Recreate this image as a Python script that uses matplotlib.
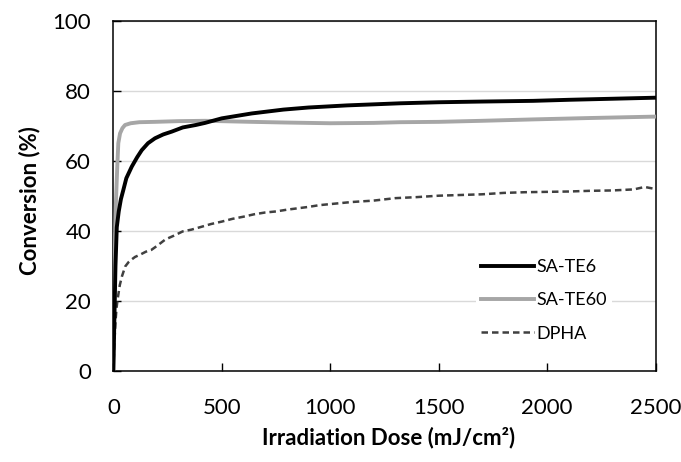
# Photo-curing conversion vs irradiation dose
import matplotlib.pyplot as plt

plt.rcParams['font.family'] = ['Lato', 'DejaVu Sans']

# SA-TE6 (black solid)
te6_dose = [0, 5, 10, 16, 25, 35, 46, 60, 85, 110, 131, 160, 192, 230, 269, 320,
            380, 423, 500, 638, 784, 900, 1077, 1200, 1322, 1500, 1700, 1936, 2100,
            2300, 2500]
te6_conv = [0, 15, 30, 41, 45.5, 49, 51.6, 55, 58.3, 61, 63, 65, 66.4, 67.5, 68.3,
            69.5, 70.2, 70.8, 72.1, 73.5, 74.6, 75.2, 75.8, 76.1, 76.4, 76.7, 76.9,
            77.1, 77.4, 77.7, 78]

# SA-TE60 (grey solid)
te60_dose = [0, 4, 8, 12.5, 18, 23, 31, 42, 54, 80, 120, 192, 300, 423, 638, 800,
             1000, 1200, 1322, 1500, 1700, 1936, 2200, 2500]
te60_conv = [0, 20, 38, 49, 58, 65, 67.8, 69.3, 70.2, 70.7, 71, 71.1, 71.3, 71.4,
             71.1, 70.9, 70.7, 70.8, 71, 71.1, 71.4, 71.8, 72.2, 72.6]

# DPHA (dark dashed)
dpha_dose = [0, 5, 10, 15, 20, 30, 40, 55, 70, 85, 100, 125, 150, 175, 200, 240,
             280, 320, 360, 400, 450, 500, 550, 600, 650, 700, 750, 800, 850, 900,
             950, 1000, 1100, 1200, 1300, 1400, 1500, 1600, 1700, 1800, 1900, 2000,
             2100, 2200, 2300, 2400, 2450, 2500]
dpha_conv = [0, 8, 14, 18, 20.5, 24.5, 27, 29.8, 31, 31.8, 32.5, 33.2, 34, 34.5,
             35.6, 37.5, 38.6, 39.8, 40.3, 41, 41.9, 42.6, 43.4, 44, 44.7, 45.2, 45.5,
             46, 46.4, 46.8, 47.3, 47.6, 48.2, 48.6, 49.3, 49.6, 50, 50.2, 50.4, 50.8,
             51, 51.1, 51.2, 51.4, 51.5, 51.8, 52.5, 51.9]

x_ticks = [0, 500, 1000, 1500, 2000, 2500]
y_ticks = [0, 20, 40, 60, 80, 100]

fig = plt.figure(figsize=(6.81, 4.62), dpi=100)
ax = fig.add_axes([0.1664, 0.1976, 0.7962, 0.7576])

ax.plot(te6_dose, te6_conv, color='black', lw=2.8, label='SA-TE6', zorder=4)
ax.plot(te60_dose, te60_conv, color='#a6a6a6', lw=2.8, label='SA-TE60', zorder=3)
ax.plot(dpha_dose, dpha_conv, color='#404040', lw=1.8, ls=(0, (2.6, 1.6)),
        label='DPHA', zorder=3)

ax.set_xlim(0, 2500)
ax.set_ylim(0, 100)
ax.set_xticks(x_ticks)
ax.set_yticks(y_ticks)
ax.grid(axis='y', color='#d9d9d9', lw=1.0)
ax.set_axisbelow(True)
for s in ax.spines.values():
    s.set_color('black')
    s.set_linewidth(1.1)
ax.tick_params(axis='x', direction='in', length=6, width=1, pad=20, labelsize=16)
ax.tick_params(axis='y', direction='in', length=6, width=1, pad=16, labelsize=16)

ax.set_xlabel('Irradiation Dose (mJ/cm²)', fontsize=16, fontweight='bold')
ax.set_ylabel('Conversion (%)', fontsize=16, fontweight='bold')
ax.xaxis.set_label_coords(0.508, -0.192)
ax.yaxis.set_label_coords(-0.155, 0.485)
ax.xaxis.label.set_va('center')
ax.yaxis.label.set_va('center')

leg = ax.legend(loc='lower right', bbox_to_anchor=(0.937, 0.042), frameon=True,
                fontsize=13, handlelength=2.9, handletextpad=0.15,
                labelspacing=0.95, borderpad=0.3)
leg.get_frame().set_edgecolor('none')
leg.get_frame().set_facecolor('white')
leg.get_frame().set_alpha(1)

fig.savefig('out.png', dpi=100)
